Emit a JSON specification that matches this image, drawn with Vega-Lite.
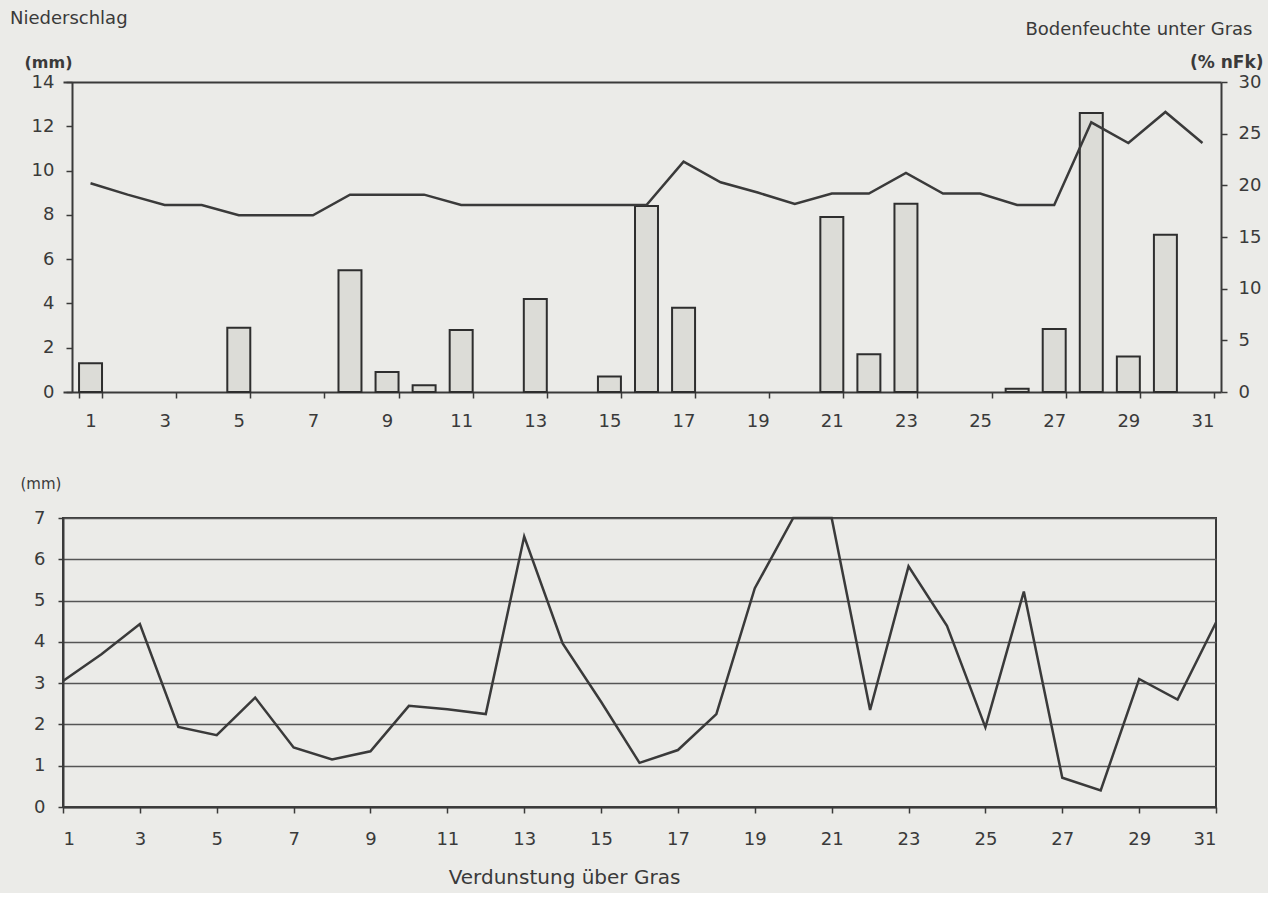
{
  "$schema": "https://vega.github.io/schema/vega-lite/v6.json",
  "padding": {"left": 10, "top": 10, "right": 5, "bottom": 5},
  "background": "#ebebe8",
  "config": {
    "font": "DejaVu Sans",
    "view": {"stroke": "#3a3a3a", "strokeWidth": 2},
    "axis": {
      "labelFont": "DejaVu Sans", "labelFontSize": 18, "labelColor": "#3a3a3a",
      "domainColor": "#3a3a3a", "domainWidth": 2,
      "tickColor": "#3a3a3a", "tickWidth": 1.5, "tickSize": 6,
      "grid": false, "titleFont": "DejaVu Sans", "titleColor": "#3a3a3a"
    }
  },
  "datasets": {
    "d": [
      {"day": 1, "n": 1.3, "b": 20.2, "v": 3.05},
      {"day": 2, "n": 0, "b": 19.1, "v": 3.7},
      {"day": 3, "n": 0, "b": 18.1, "v": 4.43},
      {"day": 4, "n": 0, "b": 18.1, "v": 1.94},
      {"day": 5, "n": 2.9, "b": 17.1, "v": 1.74},
      {"day": 6, "n": 0, "b": 17.1, "v": 2.65},
      {"day": 7, "n": 0, "b": 17.1, "v": 1.44},
      {"day": 8, "n": 5.5, "b": 19.1, "v": 1.15},
      {"day": 9, "n": 0.9, "b": 19.1, "v": 1.35},
      {"day": 10, "n": 0.3, "b": 19.1, "v": 2.45},
      {"day": 11, "n": 2.8, "b": 18.1, "v": 2.37},
      {"day": 12, "n": 0, "b": 18.1, "v": 2.25},
      {"day": 13, "n": 4.2, "b": 18.1, "v": 6.55},
      {"day": 14, "n": 0, "b": 18.1, "v": 3.96},
      {"day": 15, "n": 0.7, "b": 18.1, "v": 2.55},
      {"day": 16, "n": 8.4, "b": 18.1, "v": 1.07},
      {"day": 17, "n": 3.8, "b": 22.3, "v": 1.38},
      {"day": 18, "n": 0, "b": 20.3, "v": 2.25},
      {"day": 19, "n": 0, "b": 19.3, "v": 5.3},
      {"day": 20, "n": 0, "b": 18.2, "v": 7.0},
      {"day": 21, "n": 7.9, "b": 19.2, "v": 7.0},
      {"day": 22, "n": 1.7, "b": 19.2, "v": 2.35},
      {"day": 23, "n": 8.5, "b": 21.2, "v": 5.83},
      {"day": 24, "n": 0, "b": 19.2, "v": 4.39},
      {"day": 25, "n": 0, "b": 19.2, "v": 1.93},
      {"day": 26, "n": 0.15, "b": 18.1, "v": 5.22},
      {"day": 27, "n": 2.85, "b": 18.1, "v": 0.71},
      {"day": 28, "n": 12.6, "b": 26.1, "v": 0.4},
      {"day": 29, "n": 1.6, "b": 24.1, "v": 3.1},
      {"day": 30, "n": 7.1, "b": 27.1, "v": 2.6},
      {"day": 31, "n": 0, "b": 24.1, "v": 4.47}
    ]
  },
  "spacing": 45,
  "vconcat": [
    {
      "width": 1158,
      "height": 310,
      "view": {"stroke": null},
      "data": {"name": "d"},
      "title": {"text": "Niederschlag", "anchor": "start", "frame": "bounds", "fontSize": 18, "fontWeight": "normal", "color": "#3a3a3a", "offset": -8, "dx": -14},
      "layer": [
        {
          "transform": [{"filter": "datum.n > 0"}],
          "mark": {"type": "bar", "fill": "#dcdcd7", "stroke": "#2e2e2e", "strokeWidth": 2},
          "encoding": {
            "x": {
              "field": "day", "type": "ordinal",
              "scale": {"paddingInner": 0.38, "paddingOuter": 0.3113, "align": 0.695},
              "axis": {"orient": "bottom", "values": [1,3,5,7,9,11,13,15,17,19,21,23,25,27,29,31], "labelAngle": 0, "tickBand": "extent", "labelPadding": 14, "title": null}
            },
            "y": {
              "field": "n", "type": "quantitative",
              "scale": {"domain": [0, 14]},
              "axis": {"offset": -9, "values": [0,2,4,6,8,10,12,14], "labelPadding": 12, "title": "(mm)", "titleAngle": 0, "titleAlign": "left", "titleBaseline": "middle", "titleX": -48, "titleY": -20, "titleFontWeight": "bold", "titleFontSize": 16}
            }
          }
        },
        {
          "mark": {"type": "line", "stroke": "#3a3a3a", "strokeWidth": 2.5},
          "encoding": {
            "x": {
              "field": "day", "type": "ordinal",
              "axis": {"orient": "top", "labels": false, "ticks": false, "domain": true, "title": "Bodenfeuchte unter Gras", "titleAlign": "right", "titleBaseline": "middle", "titleX": 1189, "titleY": -53, "titleFontSize": 18, "titleFontWeight": "normal"}
            },
            "y": {
              "field": "b", "type": "quantitative",
              "scale": {"domain": [0, 30]},
              "axis": {"orient": "right", "values": [0,5,10,15,20,25,30], "labelPadding": 11, "title": "(% nFk)", "titleAngle": 0, "titleAlign": "right", "titleBaseline": "middle", "titleX": 42, "titleY": -20, "titleFontWeight": "bold", "titleFontSize": 17}
            }
          }
        }
      ],
      "resolve": {"scale": {"y": "independent"}, "axis": {"x": "independent"}}
    },
    {
      "width": 1153,
      "height": 289,
      "data": {"name": "d"},
      "mark": {"type": "line", "stroke": "#3a3a3a", "strokeWidth": 2.5},
      "encoding": {
        "x": {
          "field": "day", "type": "quantitative",
          "scale": {"domain": [1, 31], "nice": false, "zero": false},
          "axis": {"values": [1,3,5,7,9,11,13,15,17,19,21,23,25,27,29,31], "labelPadding": 17, "title": "Verdunstung über Gras", "titleAlign": "center", "titleBaseline": "middle", "titleX": 501, "titleY": 70, "titleFontSize": 20, "titleFontWeight": "normal"}
        },
        "y": {
          "field": "v", "type": "quantitative",
          "scale": {"domain": [0, 7]},
          "axis": {"values": [0,1,2,3,4,5,6,7], "grid": true, "gridColor": "#555555", "gridWidth": 1.3, "tickSize": 5, "labelPadding": 13, "title": "(mm)", "titleAngle": 0, "titleAlign": "left", "titleBaseline": "middle", "titleX": -43, "titleY": -35, "titleFontSize": 15, "titleFontWeight": "normal"}
        }
      }
    }
  ]
}
